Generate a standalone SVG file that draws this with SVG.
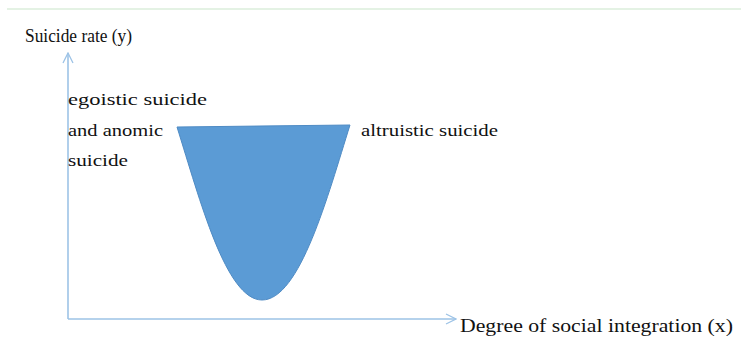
<svg xmlns="http://www.w3.org/2000/svg" width="741" height="360" viewBox="0 0 741 360">
<defs>
<style>
text{font-family:'Liberation Serif','Times New Roman','DejaVu Serif',serif;fill:#111;}
.ax{stroke:#9DC3E6;stroke-width:1.6;fill:none;}
</style>
<marker id="ah" viewBox="0 0 12 12" refX="11" refY="6" markerWidth="12" markerHeight="12" markerUnits="userSpaceOnUse" orient="auto">
<path d="M1,1 L11,6 L1,11" fill="none" stroke="#9DC3E6" stroke-width="1.3"/>
</marker>
</defs>
<rect width="741" height="360" fill="#fff"/>
<line x1="7" y1="9" x2="741" y2="9" stroke="#C9E6C9" stroke-width="1.2"/>
<g id="connectors">
<line class="ax" x1="68" y1="319" x2="68" y2="53" marker-end="url(#ah)"/>
<line class="ax" x1="68" y1="319" x2="456" y2="319" marker-end="url(#ah)"/>
</g>
<g id="curve">
<path d="M177,127 L350,125 C328,195 300,300 262,300 C226,300 200,200 177,127 Z" fill="#5B9BD5" stroke="#4F8BC4" stroke-width="1"/>
</g>
<g id="labels">
<text font-family="Liberation Serif, serif" x="25" y="42" font-size="18" textLength="107" lengthAdjust="spacingAndGlyphs">Suicide rate (y)</text>
<text font-family="Liberation Serif, serif" x="68" y="105" font-size="17" textLength="139" lengthAdjust="spacingAndGlyphs">egoistic suicide</text>
<text font-family="Liberation Serif, serif" x="68" y="136" font-size="17" textLength="95" lengthAdjust="spacingAndGlyphs">and anomic</text>
<text font-family="Liberation Serif, serif" x="68" y="166" font-size="17" textLength="60" lengthAdjust="spacingAndGlyphs">suicide</text>
<text font-family="Liberation Serif, serif" x="361" y="136" font-size="17" textLength="137" lengthAdjust="spacingAndGlyphs">altruistic suicide</text>
<text font-family="Liberation Serif, serif" x="460" y="332" font-size="19" textLength="273" lengthAdjust="spacingAndGlyphs">Degree of social integration (x)</text>
</g>
</svg>
